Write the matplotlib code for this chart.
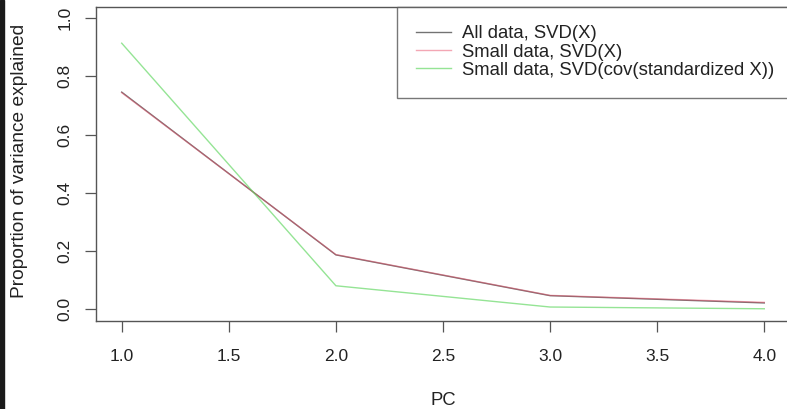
import numpy as np
import matplotlib.pyplot as plt
from matplotlib.patches import Rectangle

plt.rcParams['font.family'] = ['Liberation Sans', 'DejaVu Sans']

pc = [1, 2, 3, 4]
all_svd = [0.746, 0.187, 0.047, 0.022]
small_svd = [0.744, 0.188, 0.048, 0.024]
small_cov = [0.914, 0.081, 0.008, 0.002]
labels = ["All data, SVD(X)", "Small data, SVD(X)",
          "Small data, SVD(cov(standardized X))"]

W, H = 787, 409
fig = plt.figure(figsize=(W / 100, H / 100), dpi=100)
# plot box in pixels: left 96, right ~790, top 6.5, bottom 321
ax = fig.add_axes([96 / W, (H - 321) / H, (790 - 96) / W, (321 - 6.5) / H])

ax.plot(pc, all_svd, color="black", alpha=0.55, lw=1.0, label=labels[0])
ax.plot(pc, small_svd, color="#e8506a", alpha=0.5, lw=1.0, label=labels[1])
ax.plot(pc, small_cov, color="#5cd65c", alpha=0.65, lw=1.0, label=labels[2])

ax.set_xlim(0.88, 4.12)
ax.set_ylim(-0.04, 1.04)
ax.set_xticks([1.0, 1.5, 2.0, 2.5, 3.0, 3.5, 4.0])
ax.set_xticklabels(["1.0", "1.5", "2.0", "2.5", "3.0", "3.5", "4.0"])
ax.set_yticks([0.0, 0.2, 0.4, 0.6, 0.8, 1.0])
ax.set_yticklabels(["0.0", "0.2", "0.4", "0.6", "0.8", "1.0"], rotation=90,
                   va="center")
ax.tick_params(direction="out", length=8, width=0.9, color="#555555",
               labelsize=12.5, labelcolor="#222222")
ax.tick_params(axis="x", pad=12)
ax.tick_params(axis="y", pad=9)
for s in ax.spines.values():
    s.set_color("#555555")
    s.set_linewidth(1.0)

ax.set_xlabel("PC", fontsize=13.3, color="#222222", labelpad=20)
ax.set_ylabel("Proportion of variance explained", fontsize=13.8,
              color="#222222")
ax.yaxis.set_label_coords(-68 / (790 - 96), 0.51)

leg = ax.legend(loc="upper left", bbox_to_anchor=(397 / W, 1 - 6.5 / H),
                bbox_transform=fig.transFigure, fontsize=13.3, frameon=True,
                fancybox=False, edgecolor="#555555", borderpad=1.02,
                labelspacing=0.07, handlelength=1.9, handletextpad=0.6,
                borderaxespad=0)
leg.get_frame().set_linewidth(1.0)
for t in leg.get_texts():
    t.set_color("#222222")

fig.patches.append(Rectangle((0, 0), 4 / W, 1, transform=fig.transFigure,
                             color="#1a1a1a", zorder=10))

fig.savefig("out.png", dpi=100)
